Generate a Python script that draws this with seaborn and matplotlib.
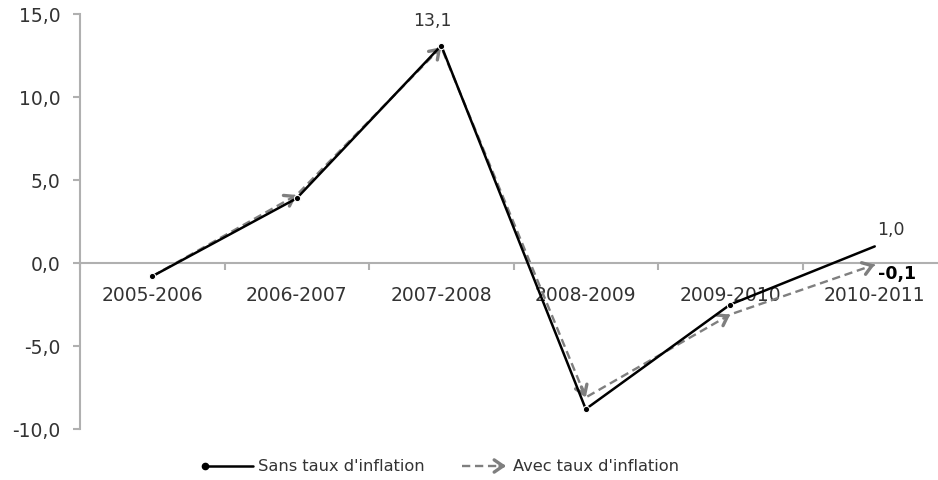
import matplotlib
matplotlib.use("Agg")
import matplotlib.pyplot as plt
import seaborn as sns
import pandas as pd
from matplotlib.lines import Line2D
from matplotlib.patches import FancyArrowPatch
from matplotlib.ticker import FuncFormatter, FixedLocator

# Data
periods = ["2005-2006", "2006-2007", "2007-2008", "2008-2009", "2009-2010", "2010-2011"]
sans_inflation = [-0.8, 3.9, 13.1, -8.8, -2.5, 1.0]
avec_inflation = [-0.8, 4.1, 13.0, -8.1, -3.1, -0.1]

df = pd.DataFrame({"periode": periods, "sans": sans_inflation, "avec": avec_inflation})

sns.set_theme(style="white")
plt.rcParams['font.family'] = ['DejaVu Sans']
text_col = "#333333"
axis_col = "#b0b0b0"
grey = "#7f7f7f"
fs_tick = 13.5
fs_lab = 12.5
fs_leg = 11.7
arrow_style = "->,head_length=0.32,head_width=0.22"

fig = plt.figure(figsize=(9.38, 4.81), dpi=100)
ax = fig.add_axes([80 / 938, 51 / 481, 867 / 938, 415 / 481])

# Dashed series (with inflation) with open arrowheads at each point
sns.lineplot(data=df, x="periode", y="avec", ax=ax, color=grey, lw=1.7,
             sort=False, zorder=2)
ax.lines[-1].set_dashes((3.5, 2))
for i in range(1, len(avec_inflation)):
    x0, y0 = i - 1, avec_inflation[i - 1]
    x1, y1 = i, avec_inflation[i]
    f = 0.03
    ax.annotate("", xy=(x1, y1), xytext=(x1 - f * (x1 - x0), y1 - f * (y1 - y0)),
                arrowprops=dict(arrowstyle=arrow_style, color=grey, lw=2.4,
                                mutation_scale=20, shrinkA=0, shrinkB=0), zorder=3)

# Solid series (without inflation)
sns.lineplot(data=df, x="periode", y="sans", ax=ax, color="black", lw=1.8,
             sort=False, zorder=4)
ax.lines[-1].set_marker("o")
ax.lines[-1].set_markersize(4.5)
ax.lines[-1].set_markevery([0, 1, 2, 3, 4])

# Data labels
ax.text(2 - 0.06, sans_inflation[2] + 1.0, "13,1", ha="center", va="bottom",
        fontsize=fs_lab, color=text_col)
ax.text(5 + 0.11, sans_inflation[5] + 0.5, "1,0", ha="center", va="bottom",
        fontsize=fs_lab, color=text_col)
ax.text(5 + 0.02, avec_inflation[5] - 0.5, "-0,1", ha="left", va="center",
        fontsize=fs_lab, color="black", fontweight="bold")

# Axes styling
ax.set_xlim(-0.5, 5.5)
ax.set_ylim(-10, 15)
ax.set_yticks([-10, -5, 0, 5, 10, 15])
ax.yaxis.set_major_formatter(FuncFormatter(lambda v, p: f"{v:.1f}".replace(".", ",")))
ax.set_xticks(range(len(periods)))
ax.set_xticklabels(periods)
ax.xaxis.set_minor_locator(FixedLocator([i + 0.5 for i in range(-1, len(periods))]))
ax.set_xlabel("")
ax.set_ylabel("")

for s in ["top", "right"]:
    ax.spines[s].set_visible(False)
ax.spines["bottom"].set_position(("data", 0))
for s in ["left", "bottom"]:
    ax.spines[s].set_color(axis_col)
    ax.spines[s].set_linewidth(1.5)

ax.tick_params(axis="y", which="major", direction="out", length=5, width=1.5,
               color=axis_col, labelsize=fs_tick, labelcolor=text_col, pad=9, left=True)
ax.tick_params(axis="x", which="major", length=0, labelsize=fs_tick,
               labelcolor=text_col, pad=16)
ax.tick_params(axis="x", which="minor", direction="out", length=5, width=1.5,
               color=axis_col, bottom=True)
ax.grid(False)

# Legend drawn below the plot
ly = 1 - 467 / 481
fig.add_artist(Line2D([205 / 938, 253 / 938], [ly, ly], color="black", lw=1.8,
                      transform=fig.transFigure))
fig.add_artist(Line2D([205 / 938], [ly], color="black", marker="o", markersize=4.5,
                      transform=fig.transFigure))
fig.text(258 / 938, ly, "Sans taux d'inflation", ha="left", va="center",
         fontsize=fs_leg, color=text_col)
fig.add_artist(Line2D([462 / 938, 505 / 938], [ly, ly], color=grey, lw=1.7,
                      dashes=(3.5, 2), transform=fig.transFigure))
fig.add_artist(FancyArrowPatch(
    (500 / 938, ly), (506 / 938, ly), transform=fig.transFigure,
    arrowstyle=arrow_style, mutation_scale=20,
    color=grey, lw=2.4, shrinkA=0, shrinkB=0))
fig.text(513 / 938, ly, "Avec taux d'inflation", ha="left", va="center",
         fontsize=fs_leg, color=text_col)

fig.savefig("out.png", dpi=100)
